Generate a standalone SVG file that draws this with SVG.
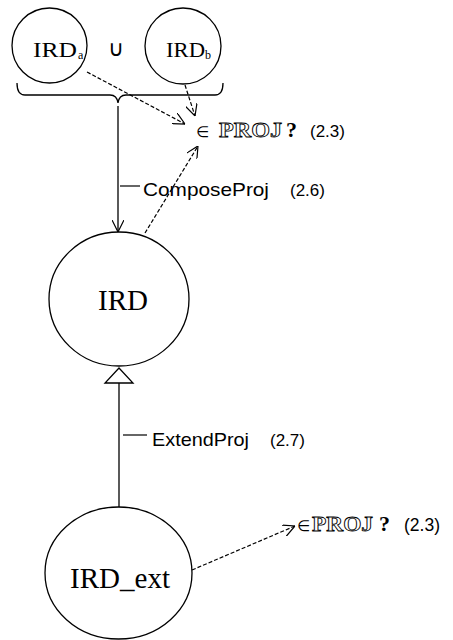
<svg xmlns="http://www.w3.org/2000/svg" width="453" height="640" viewBox="0 0 453 640">
<style>
.node{fill:none;stroke:#000;stroke-width:1.3}
.serif{font-family:"Liberation Serif","Times New Roman",serif;fill:#000}
.sans{font-family:"Liberation Sans",Arial,sans-serif;fill:#000}
.sym{font-family:"DejaVu Sans",sans-serif;fill:#000}
.bb{font-family:"Liberation Serif","Times New Roman",serif;font-weight:bold;fill:#fff;stroke:#000;stroke-width:0.8}
.solid{fill:none;stroke:#000;stroke-width:1.3}
.dash{fill:none;stroke:#000;stroke-width:1.2;stroke-dasharray:4 2}
.lead{stroke:#000;stroke-width:1.2}
</style>
<defs>
<marker id="openArrow" viewBox="0 0 12 12" refX="12" refY="6" markerWidth="12" markerHeight="12" markerUnits="userSpaceOnUse" orient="auto">
<path d="M0,0 L12,6 L0,12" fill="none" stroke="#000" stroke-width="1.2"/>
</marker>
</defs>
<rect width="453" height="640" fill="#fff"/>

<g id="IRDa">
<ellipse class="node" cx="49.5" cy="45.5" rx="37.5" ry="37.5"/>
<text class="serif" x="33" y="57" font-size="22" textLength="44" lengthAdjust="spacingAndGlyphs">IRD</text>
<text class="serif" x="78" y="59" font-size="12">a</text>
</g>
<g id="union">
<text class="sym" x="116" y="56" font-size="22" text-anchor="middle">∪</text>
</g>
<g id="IRDb">
<ellipse class="node" cx="183" cy="46" rx="38" ry="38"/>
<text class="serif" x="166" y="57" font-size="22" textLength="39" lengthAdjust="spacingAndGlyphs">IRD</text>
<text class="serif" x="205" y="59" font-size="12">b</text>
</g>
<g id="brace">
<path class="solid" d="M17,83 Q17,95 25,95 L110,95 Q117,95 118,103 Q119,95 126,95 L215,95 Q223,95 223,83"/>
</g>

<g id="projTop">
<text class="sym" x="196" y="137" font-size="15">∈</text>
<text class="bb" x="219" y="137" font-size="20" textLength="63" lengthAdjust="spacingAndGlyphs">PROJ</text>
<text class="serif" x="286" y="137" font-size="22" font-weight="bold">?</text>
<text class="sans" x="310" y="137" font-size="17">(2.3)</text>
</g>

<g id="IRD">
<ellipse class="node" cx="119" cy="299" rx="70" ry="67"/>
<text class="serif" x="98" y="310" font-size="29" textLength="50" lengthAdjust="spacingAndGlyphs">IRD</text>
</g>

<g id="IRD_ext">
<ellipse class="node" cx="118.5" cy="573" rx="73.5" ry="66"/>
<text class="serif" x="70" y="588" font-size="29" textLength="100" lengthAdjust="spacingAndGlyphs">IRD_ext</text>
</g>

<g id="projBottom">
<text class="sym" x="297" y="531" font-size="15">∈</text>
<text class="bb" x="312" y="531" font-size="20" textLength="61" lengthAdjust="spacingAndGlyphs">PROJ</text>
<text class="serif" x="379" y="531" font-size="22" font-weight="bold">?</text>
<text class="sans" x="404" y="531" font-size="17.5">(2.3)</text>
</g>

<g id="connectors">
<path class="solid" d="M118,106 L118,232" marker-end="url(#openArrow)"/>
<path class="dash" d="M87,72 L185,124" marker-end="url(#openArrow)"/>
<path class="dash" d="M185,85 L195,116" marker-end="url(#openArrow)"/>
<path class="dash" d="M145,233 L198,146" marker-end="url(#openArrow)"/>
<path class="solid" d="M119,383 L119,507"/>
<polygon points="105,383 133,383 119,368" fill="#fff" stroke="#000" stroke-width="1.3"/>
<path class="dash" d="M192,570 L295,526" marker-end="url(#openArrow)"/>
<g id="label-compose">
<line class="lead" x1="120" y1="186" x2="140" y2="186"/>
<text class="sans" x="143" y="196" font-size="19" textLength="126" lengthAdjust="spacingAndGlyphs">ComposeProj</text>
<text class="sans" x="290" y="196" font-size="17">(2.6)</text>
</g>
<g id="label-extend">
<line class="lead" x1="123" y1="435" x2="147" y2="435"/>
<text class="sans" x="152" y="446" font-size="19" textLength="97" lengthAdjust="spacingAndGlyphs">ExtendProj</text>
<text class="sans" x="270" y="446" font-size="17">(2.7)</text>
</g>
</g>
</svg>
